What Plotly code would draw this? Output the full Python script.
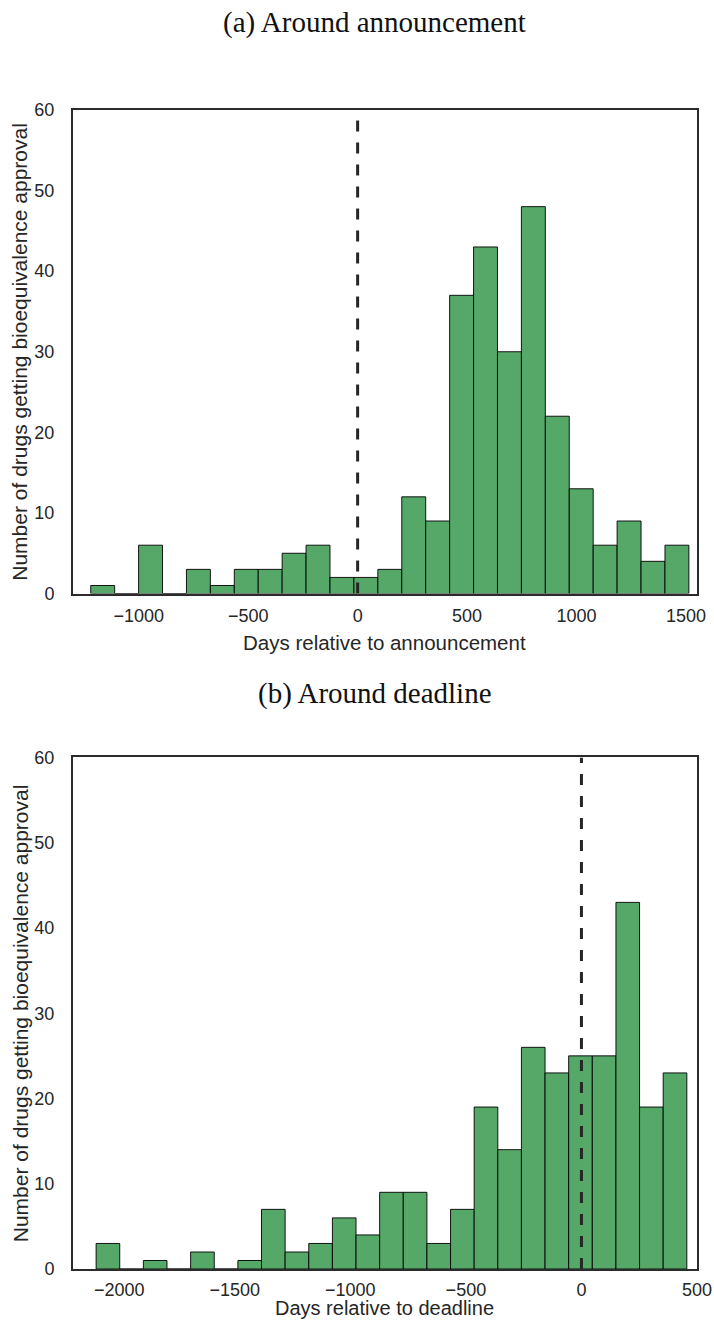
import numpy as np
import plotly.graph_objects as go

# ---------------- data ----------------
ann_counts = [1, 0, 6, 0, 3, 1, 3, 3, 5, 6, 2, 2, 3, 12, 9, 37, 43, 30, 48, 22, 13, 6, 9, 4, 6]
ann_first_edge = -1219
ann_last_edge = 1513
dl_counts = [3, 0, 1, 0, 2, 0, 1, 7, 2, 3, 6, 4, 9, 9, 3, 7, 19, 14, 26, 23, 25, 25, 43, 19, 23]
dl_first_edge = -2100
dl_last_edge = 456
ann_xticks = [-1000, -500, 0, 500, 1000, 1500]
dl_xticks = [-2000, -1500, -1000, -500, 0, 500]
y_ticks = [0, 10, 20, 30, 40, 50, 60]
panel_titles = ["(a) Around announcement", "(b) Around deadline"]
x_titles = ["Days relative to announcement", "Days relative to deadline"]
y_title = "Number of drugs getting bioequivalence approval"


def bins(first, last, counts):
    edges = np.linspace(first, last, len(counts) + 1)
    return (edges[:-1] + edges[1:]) / 2, np.diff(edges)


W, H = 714, 1329
GREEN = "#55a868"
DARK = "#262626"
SANS = "Liberation Sans, Arial, sans-serif"
SERIF = "Liberation Serif, Times New Roman, serif"

# measured mapping between page pixels and the photographed picture
SX, SY, OY = 0.979, 0.9857, 9.0


def px(x):  # target picture x -> paper fraction
    return (x / SX) / W


def py(y):  # target picture y -> paper fraction
    return 1 - ((y - OY) / SY) / H


fig = go.Figure()
ac, aw = bins(ann_first_edge, ann_last_edge, ann_counts)
dc, dw = bins(dl_first_edge, dl_last_edge, dl_counts)
bar_style = dict(color=GREEN, line=dict(color="rgba(0,0,0,0.9)", width=1))
fig.add_trace(go.Bar(x=ac, y=ann_counts, width=aw, marker=bar_style, xaxis="x", yaxis="y",
                     showlegend=False, hoverinfo="skip"))
fig.add_trace(go.Bar(x=dc, y=dl_counts, width=dw, marker=bar_style, xaxis="x2", yaxis="y2",
                     showlegend=False, hoverinfo="skip"))

xdom = [px(73), px(697)]
ydom1 = [py(593), py(109)]
ydom2 = [py(1269), py(757)]

axis_common = dict(
    showline=True, mirror=True, linecolor="#2b2b2b", linewidth=2,
    showgrid=False, zeroline=False, ticks="",
    tickfont=dict(family=SANS, size=18, color=DARK),
    fixedrange=True, ticklabeloverflow="allow",
)
ycommon = dict(axis_common, ticklabelstandoff=13, range=[0, 60], tickvals=y_ticks)

fig.update_layout(
    width=W, height=H,
    margin=dict(l=0, r=0, t=0, b=0),
    paper_bgcolor="white", plot_bgcolor="white",
    barmode="overlay",
    xaxis=dict(axis_common, ticklabelstandoff=5, domain=xdom, anchor="y",
               range=[-1300, 1550], tickvals=ann_xticks),
    yaxis=dict(ycommon, domain=ydom1, anchor="x"),
    xaxis2=dict(axis_common, ticklabelstandoff=3, domain=xdom, anchor="y2",
                range=[-2200, 500], tickvals=dl_xticks),
    yaxis2=dict(ycommon, domain=ydom2, anchor="x2"),
)

for xref, yref in [("x", "y"), ("x2", "y2")]:
    fig.add_shape(type="line", xref=xref, yref=yref, x0=0, x1=0, y0=0, y1=60,
                  line=dict(color=DARK, width=3, dash="11px,11px"), layer="above")

# panel titles
for text, ypx in zip(panel_titles, [22, 693]):
    fig.add_annotation(text=text, xref="paper", yref="paper", x=px(375), y=py(ypx),
                       xanchor="center", yanchor="middle", showarrow=False,
                       font=dict(family=SERIF, size=29, color="#111111"))

# axis titles
fig.add_annotation(text=x_titles[0], xref="paper", yref="paper", x=px(385), y=py(641.5),
                   xanchor="center", yanchor="middle", showarrow=False,
                   font=dict(family=SANS, size=20.5, color=DARK))
fig.add_annotation(text=x_titles[1], xref="paper", yref="paper", x=px(385), y=1 - 1317.5 / H,
                   xanchor="center", yanchor="middle", showarrow=False,
                   font=dict(family=SANS, size=20, color=DARK))
for ypx in [351, 1013]:
    fig.add_annotation(text=y_title, xref="paper", yref="paper", x=px(20), y=py(ypx),
                       xanchor="center", yanchor="middle", showarrow=False, textangle=-90,
                       font=dict(family=SANS, size=21, color=DARK))

fig.write_html("out.html", config={"displayModeBar": False},
               post_script="document.documentElement.style.overflow='hidden';document.body.style.margin='0';document.body.style.overflow='hidden';")
